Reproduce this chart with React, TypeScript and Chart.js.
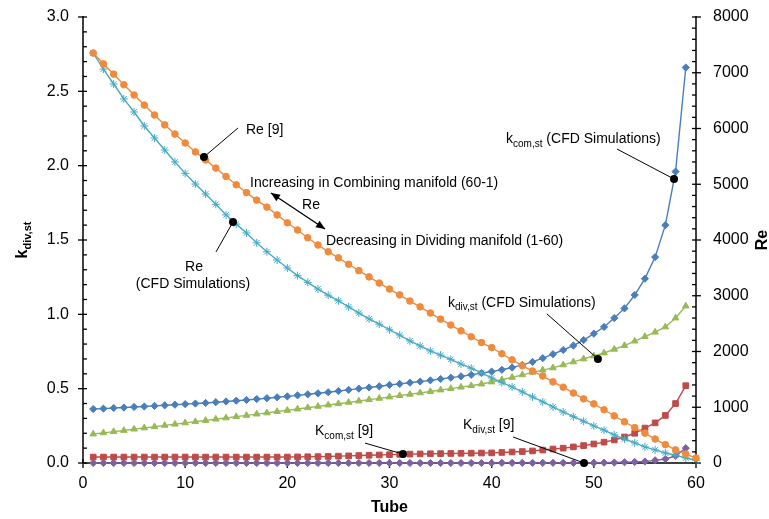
import React, { useEffect, useRef } from "react";
import { Chart, registerables } from "chart.js";

Chart.register(...registerables);

// ---------- data ----------
const tubes = [
  1, 2, 3, 4, 5, 6, 7, 8, 9, 10, 11, 12, 13, 14, 15, 16, 17, 18, 19, 20,
  21, 22, 23, 24, 25, 26, 27, 28, 29, 30, 31, 32, 33, 34, 35, 36, 37, 38, 39, 40,
  41, 42, 43, 44, 45, 46, 47, 48, 49, 50, 51, 52, 53, 54, 55, 56, 57, 58, 59, 60,
];

// k_com,st (CFD Simulations) - left axis
const kComCFD = [
  0.363, 0.366, 0.37, 0.373, 0.377, 0.38, 0.384, 0.388, 0.392, 0.396,
  0.4, 0.404, 0.409, 0.414, 0.419, 0.424, 0.43, 0.436, 0.442, 0.448,
  0.455, 0.462, 0.469, 0.476, 0.484, 0.492, 0.5, 0.508, 0.516, 0.525,
  0.532, 0.54, 0.548, 0.556, 0.565, 0.574, 0.583, 0.593, 0.605, 0.615,
  0.627, 0.642, 0.66, 0.68, 0.705, 0.732, 0.76, 0.79, 0.827, 0.87,
  0.915, 0.975, 1.04, 1.13, 1.24, 1.385, 1.6, 1.96, 2.66,
];

// k_div,st (CFD Simulations) - left axis
const kDivCFD = [
  0.195, 0.203, 0.211, 0.219, 0.228, 0.236, 0.244, 0.253, 0.261, 0.27,
  0.278, 0.286, 0.295, 0.303, 0.312, 0.32, 0.329, 0.337, 0.346, 0.354,
  0.363, 0.372, 0.381, 0.39, 0.399, 0.408, 0.417, 0.426, 0.435, 0.444,
  0.453, 0.462, 0.472, 0.481, 0.491, 0.5, 0.51, 0.52, 0.531, 0.545,
  0.56, 0.576, 0.593, 0.61, 0.625, 0.64, 0.66, 0.68, 0.7, 0.72,
  0.74, 0.765, 0.79, 0.82, 0.85, 0.88, 0.915, 0.975, 1.056,
];

// K_com,st [9] - left axis
const kCom9 = [
  0.04, 0.04, 0.04, 0.04, 0.04, 0.04, 0.04, 0.04, 0.04, 0.04,
  0.04, 0.04, 0.04, 0.04, 0.04, 0.04, 0.04, 0.04, 0.04, 0.04,
  0.041, 0.042, 0.043, 0.044, 0.046, 0.048, 0.05, 0.052, 0.054, 0.056,
  0.058, 0.06, 0.061, 0.062, 0.063, 0.064, 0.065, 0.066, 0.067, 0.068,
  0.071, 0.074, 0.077, 0.081, 0.087, 0.094, 0.1, 0.108, 0.117, 0.128,
  0.14, 0.155, 0.175, 0.2, 0.235, 0.27, 0.32, 0.4, 0.52,
];

// K_div,st [9] - left axis
const kDiv9 = [
  0, 0, 0, 0, 0, 0, 0, 0, 0, 0,
  0, 0, 0, 0, 0, 0, 0, 0, 0, 0,
  0, 0, 0, 0, 0, 0, 0, 0, 0, 0,
  0, 0, 0, 0, 0, 0, 0, 0, 0, 0,
  0.001, 0.001, 0.001, 0.001, 0.001, 0.001, 0.001, 0.001, 0.001, 0.001,
  0.002, 0.003, 0.005, 0.007, 0.01, 0.018, 0.027, 0.047, 0.1,
];

// Re [9] - right axis
const re9 = [
  7354, 7160, 6975, 6785, 6600, 6420, 6242, 6065, 5900, 5740,
  5580, 5435, 5290, 5140, 4990, 4850, 4715, 4590, 4450, 4310,
  4180, 4040, 3910, 3790, 3680, 3565, 3450, 3338, 3228, 3120,
  3015, 2905, 2800, 2690, 2580, 2475, 2370, 2265, 2160, 2070,
  1960, 1850, 1745, 1650, 1560, 1455, 1360, 1255, 1150, 1060,
  955, 845, 740, 635, 535, 430, 330, 235, 160, 90,
];

// Re (CFD Simulations) - right axis
const reCFD = [
  7354, 7066, 6798, 6530, 6296, 6045, 5830, 5614, 5400, 5195,
  5004, 4825, 4640, 4450, 4285, 4126, 3950, 3790, 3641, 3498,
  3360, 3240, 3120, 3010, 2910, 2800, 2690, 2585, 2490, 2390,
  2295, 2190, 2100, 2010, 1935, 1860, 1775, 1700, 1615, 1525,
  1440, 1365, 1275, 1185, 1095, 1005, 915, 830, 750, 665,
  590, 505, 430, 360, 290, 235, 180, 140, 90, 50,
];

const xTicks = [0, 10, 20, 30, 40, 50, 60];
const kTicks = [0, 0.5, 1.0, 1.5, 2.0, 2.5, 3.0];
const reTicks = [0, 1000, 2000, 3000, 4000, 5000, 6000, 7000, 8000];

const FONT = "'Liberation Sans', Arial, Helvetica, sans-serif";

type Part = [string, boolean];

function richWidth(ctx: CanvasRenderingContext2D, parts: Part[], size: number, sub: number, bold: boolean) {
  let w = 0;
  for (const [t, s] of parts) {
    ctx.font = `${bold ? "bold " : ""}${s ? sub : size}px ${FONT}`;
    w += ctx.measureText(t).width;
  }
  return w;
}

function drawRich(
  ctx: CanvasRenderingContext2D,
  parts: Part[],
  x: number,
  cy: number,
  align: "left" | "center",
  size = 14,
  sub = 10,
  bold = false
) {
  const w = richWidth(ctx, parts, size, sub, bold);
  let cx = align === "left" ? x : x - w / 2;
  const base = cy + size * 0.36;
  ctx.textAlign = "left";
  ctx.textBaseline = "alphabetic";
  for (const [t, s] of parts) {
    ctx.font = `${bold ? "bold " : ""}${s ? sub : size}px ${FONT}`;
    ctx.fillText(t, cx, s ? base + size * 0.25 : base);
    cx += ctx.measureText(t).width;
  }
}

// annotation callouts: anchor in data coords, line end + text in pixel offsets from the anchor
const callouts = [
  { axis: "y1", x: 11.84, y: 5489, lx: 34, ly: -29, texts: [{ dx: 42, dy: -28, align: "left", parts: [["Re [9]", false]] }] },
  {
    axis: "y1", x: 14.68, y: 4323, lx: -17, ly: 30,
    texts: [
      { dx: -39, dy: 44, align: "center", parts: [["Re", false]] },
      { dx: -40, dy: 61, align: "center", parts: [["(CFD Simulations)", false]] },
    ],
  },
  {
    axis: "y", x: 57.85, y: 1.91, lx: -57, ly: -30,
    texts: [{ dx: -168, dy: -41, align: "left", parts: [["k", false], ["com,st", true], [" (CFD Simulations)", false]] }],
  },
  {
    axis: "y", x: 50.4, y: 0.7, lx: -51, ly: -45,
    texts: [{ dx: -150, dy: -57, align: "left", parts: [["k", false], ["div,st", true], [" (CFD Simulations)", false]] }],
  },
  {
    axis: "y", x: 31.32, y: 0.06, lx: -38, ly: -11,
    texts: [{ dx: -88, dy: -24, align: "left", parts: [["K", false], ["com,st", true], [" [9]", false]] }],
  },
  {
    axis: "y", x: 49.04, y: 0, lx: -71, ly: -26,
    texts: [{ dx: -121, dy: -39, align: "left", parts: [["K", false], ["div,st", true], [" [9]", false]] }],
  },
];

const freeTexts = [
  { x: 16.35, y: 5040, text: "Increasing in Combining manifold (60-1)", align: "left" },
  { x: 22.32, y: 4646, text: "Re", align: "center" },
  { x: 23.78, y: 4000, text: "Decreasing in Dividing manifold (1-60)", align: "left" },
];

const arrow = { x1: 18.4, y1: 4843, x2: 23.69, y2: 4197 };

function pts(values: number[]) {
  return values.map((v, i) => ({ x: tubes[i], y: v }));
}

function seg(ctx: CanvasRenderingContext2D, x1: number, y1: number, x2: number, y2: number) {
  ctx.beginPath();
  ctx.moveTo(x1, y1);
  ctx.lineTo(x2, y2);
  ctx.stroke();
}

function arrowHead(ctx: CanvasRenderingContext2D, fx: number, fy: number, tx: number, ty: number) {
  const a = Math.atan2(ty - fy, tx - fx);
  const L = 9, W = 3.8;
  ctx.beginPath();
  ctx.moveTo(tx, ty);
  ctx.lineTo(tx - L * Math.cos(a) + W * Math.sin(a), ty - L * Math.sin(a) - W * Math.cos(a));
  ctx.lineTo(tx - L * Math.cos(a) - W * Math.sin(a), ty - L * Math.sin(a) + W * Math.cos(a));
  ctx.closePath();
  ctx.fill();
}

const axesPlugin = {
  id: "axesPlugin",
  beforeDatasetsDraw(chart: any) {
    const { ctx, chartArea: ca, scales } = chart;
    const xs = scales.x, ys = scales.y, yr = scales.y1;
    ctx.save();
    ctx.strokeStyle = "#000";
    ctx.lineWidth = 1.5;
    seg(ctx, ca.left, ca.top - 1, ca.left, ca.bottom);
    seg(ctx, ca.right, ca.top - 1, ca.right, ca.bottom);
    seg(ctx, ca.left, ca.bottom, ca.right, ca.bottom);
    ctx.lineWidth = 1.3;
    for (const v of kTicks) {
      const p = ys.getPixelForValue(v);
      seg(ctx, ca.left - 5, p, ca.left + 4, p);
    }
    for (let i = 1; i < 30; i++) {
      if (i % 5 === 0) continue;
      const p = ys.getPixelForValue(i / 10);
      seg(ctx, ca.left, p, ca.left + 4, p);
    }
    for (const v of reTicks) {
      const p = yr.getPixelForValue(v);
      seg(ctx, ca.right - 4, p, ca.right + 5, p);
    }
    for (let i = 1; i < 40; i++) {
      if (i % 5 === 0) continue;
      const p = yr.getPixelForValue(i * 200);
      seg(ctx, ca.right - 4, p, ca.right, p);
    }
    for (const v of xTicks) {
      const p = xs.getPixelForValue(v);
      seg(ctx, p, ca.bottom - 4, p, ca.bottom + 5);
    }
    ctx.restore();
  },
  afterDatasetsDraw(chart: any) {
    const { ctx, chartArea: ca, scales } = chart;
    const xs = scales.x;
    ctx.save();
    ctx.fillStyle = "#000";
    ctx.strokeStyle = "#000";
    // axis titles
    drawRich(ctx, [["Tube", false]], (ca.left + ca.right) / 2, 506, "center", 16, 11, true);
    ctx.save();
    ctx.translate(21, (ca.top + ca.bottom) / 2);
    ctx.rotate(-Math.PI / 2);
    drawRich(ctx, [["k", false], ["div,st", true]], 0, 0, "center", 16, 11, true);
    ctx.restore();
    ctx.save();
    ctx.translate(761, (ca.top + ca.bottom) / 2);
    ctx.rotate(-Math.PI / 2);
    drawRich(ctx, [["Re", false]], 0, 0, "center", 16, 11, true);
    ctx.restore();

    // callouts
    for (const c of callouts) {
      const px = xs.getPixelForValue(c.x);
      const py = scales[c.axis].getPixelForValue(c.y);
      ctx.lineWidth = 1;
      seg(ctx, px, py, px + c.lx, py + c.ly);
      ctx.beginPath();
      ctx.arc(px, py, 4, 0, Math.PI * 2);
      ctx.fill();
      for (const t of c.texts) {
        drawRich(ctx, t.parts as Part[], px + t.dx, py + t.dy, t.align as any, 14, 10, false);
      }
    }
    // free texts
    for (const f of freeTexts) {
      drawRich(ctx, [[f.text, false]], xs.getPixelForValue(f.x), scales.y1.getPixelForValue(f.y), f.align as any, 14, 10, false);
    }
    // double arrow
    const ax1 = xs.getPixelForValue(arrow.x1), ay1 = scales.y1.getPixelForValue(arrow.y1);
    const ax2 = xs.getPixelForValue(arrow.x2), ay2 = scales.y1.getPixelForValue(arrow.y2);
    ctx.lineWidth = 1.4;
    seg(ctx, ax1, ay1, ax2, ay2);
    arrowHead(ctx, ax2, ay2, ax1, ay1);
    arrowHead(ctx, ax1, ay1, ax2, ay2);
    ctx.restore();
  },
};

function ds(label: string, values: number[], axis: string, color: string, style: string, radius: number, order: number) {
  return {
    label,
    data: pts(values),
    yAxisID: axis,
    borderColor: color,
    backgroundColor: color,
    pointBackgroundColor: color,
    pointBorderColor: color,
    pointStyle: style,
    pointRadius: radius,
    pointBorderWidth: 1,
    borderWidth: 1.4,
    tension: 0,
    clip: false as any,
    order,
  };
}

export default function App() {
  const ref = useRef<HTMLCanvasElement>(null);
  useEffect(() => {
    const canvas = ref.current!;
    const tickFont = { family: FONT, size: 16 };
    const chart = new Chart(canvas, {
      type: "line",
      data: {
        datasets: [
          ds("Re [9]", re9, "y1", "#F08A3C", "circle", 3.3, 1),
          ds("Re (CFD Simulations)", reCFD, "y1", "#46AAC5", "star", 4, 2),
          ds("k_com,st (CFD Simulations)", kComCFD, "y", "#4A7EBB", "rectRot", 3.6, 3),
          ds("k_div,st (CFD Simulations)", kDivCFD, "y", "#98B954", "triangle", 3.8, 4),
          ds("K_com,st [9]", kCom9, "y", "#BE4B48", "rect", 4, 5),
          ds("K_div,st [9]", kDiv9, "y", "#7D60A0", "rectRot", 3.6, 6),
        ] as any,
      },
      options: {
        responsive: false,
        animation: false,
        layout: { padding: { top: 17, left: 0, right: 0, bottom: 0 } },
        plugins: { legend: { display: false }, tooltip: { enabled: false }, title: { display: false } },
        scales: {
          x: {
            type: "linear",
            min: 0,
            max: 60,
            afterBuildTicks: (s: any) => { s.ticks = xTicks.map((v) => ({ value: v })); },
            ticks: { font: tickFont, color: "#000", padding: 0, maxRotation: 0, callback: (v: any) => String(v) },
            grid: { display: false, drawTicks: true, tickLength: 11 },
            border: { display: false },
            afterFit: (s: any) => { s.height = 56; },
          },
          y: {
            type: "linear",
            position: "left",
            min: 0,
            max: 3,
            afterBuildTicks: (s: any) => { s.ticks = kTicks.map((v) => ({ value: v })); },
            ticks: { font: tickFont, color: "#000", padding: 0, callback: (v: any) => Number(v).toFixed(1) },
            grid: { display: false, drawTicks: true, tickLength: 14 },
            border: { display: false },
            afterFit: (s: any) => { s.width = 83; },
          },
          y1: {
            type: "linear",
            position: "right",
            min: 0,
            max: 8000,
            afterBuildTicks: (s: any) => { s.ticks = reTicks.map((v) => ({ value: v })); },
            ticks: { font: tickFont, color: "#000", padding: 0, callback: (v: any) => String(v) },
            grid: { display: false, drawTicks: true, tickLength: 17 },
            border: { display: false },
            afterFit: (s: any) => { s.width = 73; },
          },
        },
      } as any,
      plugins: [axesPlugin],
    });
    return () => chart.destroy();
  }, []);
  return (
    <div style={{ position: "fixed", left: 0, top: 0, width: 769, height: 519, background: "#fff" }}>
      <canvas ref={ref} width={769} height={519} style={{ display: "block", width: 769, height: 519 }} />
    </div>
  );
}
